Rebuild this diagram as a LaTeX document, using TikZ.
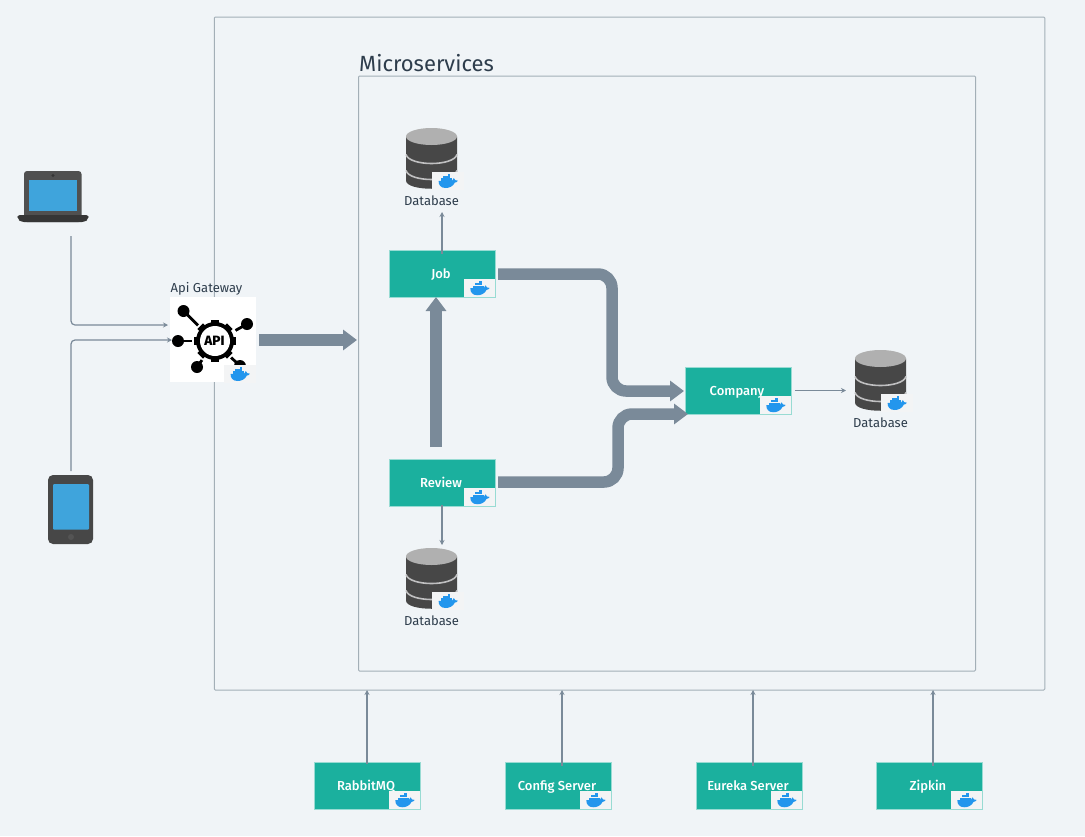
\documentclass[tikz,border=0pt]{standalone}
\usepackage{fontspec}
\setmainfont[BoldFont={Fira Sans Medium}]{Fira Sans}
\newfontfamily\apifont{Fira Sans ExtraBold}
\usetikzlibrary{arrows.meta,calc}
\definecolor{bgc}{HTML}{F0F4F7}
\definecolor{framec}{HTML}{A3AFB7}
\definecolor{teal}{HTML}{1BB09E}
\definecolor{flowc}{HTML}{7A8A99}
\definecolor{inkc}{HTML}{2E3D4C}
\definecolor{darkc}{HTML}{474747}
\definecolor{screenc}{HTML}{3FA4DC}
\definecolor{whalec}{HTML}{2396ED}
\definecolor{badgec}{HTML}{F3F4F5}
\tikzset{
  x=1pt,y=-1pt,
  frame/.style={draw=framec,line width=1pt,rounded corners=1pt},
  svcbox/.style={fill=teal,draw=teal!45!white,line width=.5pt,minimum width=106pt,minimum height=47pt,inner sep=0pt,text=white,text height=12pt,text depth=3pt,font=\fontsize{13}{14}\selectfont\bfseries,execute at end node={\hspace{3pt}}},
  spacer/.style={inner sep=0pt,minimum width=51pt,minimum height=61pt},
  dblabel/.style={inner sep=0pt,text=inkc,font=\fontsize{13}{15}\selectfont},
  thinflow/.style={draw=flowc,line width=1.2pt,rounded corners=4pt,-{Stealth[length=5pt,width=5pt]}},
  thickflow/.style={draw=flowc,line width=11.5pt,rounded corners=14pt,-{Triangle[length=14pt,width=20pt]}},
  dockerbadge/.pic={
    \fill[badgec] (0.3,0) rectangle (31.7,17.7);
    \fill[whalec] (6.6,8.8) -- (20,8.8) .. controls (20.3,7.5) and (21,6.6) .. (21.8,6.1)
      .. controls (22.8,6.8) and (23.2,7.6) .. (23.3,8.2) .. controls (24.2,7.9) and (25,8.1) .. (25.8,8.7)
      .. controls (24.9,10.2) and (23.8,10.6) .. (22.8,10.6) .. controls (21,14.4) and (17.4,16) .. (13.4,16)
      .. controls (8.8,16) and (6.3,12.8) .. (6.6,8.8) -- cycle;
    \foreach \cx in {8.8,11.1,13.4,15.7,18}{\fill[whalec] (\cx,6.3) rectangle +(2.1,2.8);}
    \foreach \cx in {11.1,13.4,15.7}{\fill[whalec] (\cx,4) rectangle +(2.1,2.1);}
    \fill[whalec] (15.7,1.9) rectangle +(2.1,1.9);
  },
  cylinder/.pic={
    \fill[darkc] (-25.5,-22) -- (-25.5,22) .. controls (-25.5,33) and (25.5,33) .. (25.5,22) -- (25.5,-22) -- cycle;
    \draw[badgec!70!darkc,line width=1.6pt] (-25.5,-4) .. controls (-22,8) and (22,8) .. (25.5,-4);
    \draw[badgec!70!darkc,line width=1.6pt] (-25.5,12) .. controls (-22,24) and (22,24) .. (25.5,12);
    \fill[black!31] (0,-22) ellipse [x radius=25.5,y radius=8.5];
  }
}
\begin{document}
\begin{tikzpicture}
\useasboundingbox (0,0) rectangle (1085,836);
\fill[bgc] (0,0) rectangle (1085,836);
% frames
\node[frame,minimum width=830.5pt,minimum height=673pt,inner sep=0pt] (outer) at (629.5,353.5) {};
\node[frame,minimum width=617pt,minimum height=595pt,inner sep=0pt] (inner) at (667,373.5) {};
\node[anchor=south west,inner sep=0pt,text=inkc,font=\fontsize{22}{25}\selectfont] (mstitle) at (359,72) {Microservices};
% devices
\node[inner sep=0pt,minimum width=72pt,minimum height=51pt] (laptop) at (53,196.5) {};
\fill[darkc!95!white,rounded corners=3pt] (24,222) -- (24,171) -- (81.5,171) -- (81.5,222) -- cycle;
\fill[black!25!darkc] (53,175.5) circle (1.6);
\fill[screenc] (29,180) rectangle (77,211);
\fill[black!80!white!85!darkc,rounded corners=3pt] (17,215) -- (89,215) -- (88,219) -- (85,222) -- (21,222) -- (18,219) -- cycle;
\node[fill=darkc,rounded corners=5pt,inner sep=0pt,minimum width=45pt,minimum height=69pt] (tablet) at (70.5,509.5) {};
\fill[screenc,rounded corners=1pt] (53,484) rectangle (89,529.5);
\fill[black!25!darkc!85!white] (71,537) circle (3);
% gateway
\node[anchor=south west,inner sep=0pt,text=inkc,font=\fontsize{13}{15}\selectfont] (gwlabel) at (170.5,295) {Api Gateway};
\node[fill=white,inner sep=0pt,minimum width=86pt,minimum height=85pt] (gateway) at (213,339.5) {};
\begin{scope}[line width=2.8pt,black]
  \draw (183.5,311) -- (215,342);
  \draw (247,324) -- (215,342);
  \draw (178,341) -- (215,341);
  \draw (197,367) -- (215,342);
  \draw (240,366) -- (215,342);
  \fill (183.5,311) circle (6);
  \fill (247,324) circle (6);
  \fill (178,341) circle (6);
  \fill (197,367) circle (6);
  \fill (240,366) circle (6);
  \fill[white] (215,341) circle (23);
  \foreach \a in {0,45,...,315}{\fill[rotate around={\a:(215,341)}] (211,320) rectangle (219,330);}
  \fill (215,341) circle (19);
  \fill[white] (215,341) circle (15);
\end{scope}
\node[inner sep=0pt,font=\fontsize{13.5}{14}\apifont,text=black] (apitext) at (214.5,341) {API};
\path (224,365) pic {dockerbadge};
% services
\node[svcbox] (job) at (442.5,273.5) {Job};
\node[svcbox] (review) at (442.5,482.5) {Review};
\node[svcbox] (company) at (738.5,390.5) {Company};
\node[svcbox] (rabbit) at (367.5,785.5) {RabbitMQ};
\node[svcbox] (config) at (558.5,785.5) {Config Server};
\node[svcbox] (eureka) at (749.5,785.5) {Eureka Server};
\node[svcbox] (zipkin) at (929.5,785.5) {Zipkin};
\foreach \n in {job,review,company,rabbit,config,eureka,zipkin}{
  \path ([shift={(-32,-18)}]\n.south east) pic {dockerbadge};
}
% databases
\node[spacer] (dbjob) at (431.5,158.5) {};
\node[spacer] (dbreview) at (431.5,578.5) {};
\node[spacer] (dbcompany) at (880.5,380.5) {};
\foreach \n in {dbjob,dbreview,dbcompany}{
  \path (\n.center) pic {cylinder};
  \path ([shift={(0.5,13.5)}]\n.center) pic {dockerbadge};
}
\node[dblabel] (dbjoblabel) at (431.5,201) {Database};
\node[dblabel] (dbreviewlabel) at (431.5,621) {Database};
\node[dblabel] (dbcompanylabel) at (880.5,423) {Database};
% thin connectors
\coordinate (lapout) at (71,236);
\coordinate (tabout) at (71,471);
\coordinate (gwin1) at (168,325);
\coordinate (gwin2) at (172,340);
\coordinate (cmpin) at (846,390.5);
\coordinate (jobdb) at (442,212);
\coordinate (revdb) at (442,545);
\coordinate (fr1) at (367,690);
\coordinate (fr2) at (562,690);
\coordinate (fr3) at (753,690);
\coordinate (fr4) at (933,690);
\draw[thinflow] (lapout) |- (gwin1);
\draw[thinflow] (tabout) |- (gwin2);
\draw[thinflow] ([xshift=-0.5,yshift=-4]job.north) -- (jobdb);
\draw[thinflow] ([xshift=-0.5,yshift=1]review.south) -- (revdb);
\draw[thinflow] ([xshift=3]company.east) -- (cmpin);
\draw[thinflow] ([xshift=-0.5,yshift=-2]rabbit.north) -- (fr1);
\draw[thinflow] ([xshift=3.5,yshift=-4]config.north) -- (fr2);
\draw[thinflow] ([xshift=3.5,yshift=-4]eureka.north) -- (fr3);
\draw[thinflow] ([xshift=3.5,yshift=-4]zipkin.north) -- (fr4);
% thick connectors
\coordinate (msin) at (357,340);
\coordinate (g1) at (259,340);
\draw[thickflow] (g1) -- (msin);
\draw[thickflow] (436,447) -- (436,297);
\draw[thickflow] (498,274) -- (612,274) -- (612,391) -- (684,391);
\draw[thickflow] (498,482) -- (618,482) -- (618,414) -- (688,414);
\end{tikzpicture}
\end{document}
